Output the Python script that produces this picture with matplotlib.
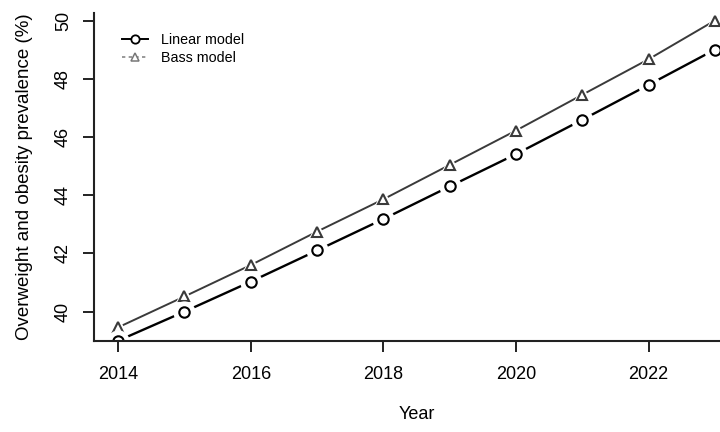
import matplotlib
matplotlib.use('Agg')
import matplotlib.pyplot as plt
from matplotlib.lines import Line2D

plt.rcParams['font.family'] = ['Liberation Sans', 'DejaVu Sans']

years = [2014, 2015, 2016, 2017, 2018, 2019, 2020, 2021, 2022, 2023]
linear_model = [39.0, 40.0, 41.03, 42.1, 43.18, 44.3, 45.41, 46.59, 47.79, 49.0]
bass_model = [39.46, 40.52, 41.6, 42.75, 43.86, 45.04, 46.22, 47.45, 48.67, 50.0]
x_ticks = [2014, 2016, 2018, 2020, 2022]
y_ticks = [40, 42, 44, 46, 48, 50]

fig = plt.figure(figsize=(7.2, 4.32), dpi=100)
ax = fig.add_axes([0.131, 0.2113, 0.895, 0.758])

# R type="b": lines broken around the points
series = [(bass_model, '#3a3a3a', 1.4, '^', 1), (linear_model, 'black', 1.7, 'o', 2)]
for vals, col, lw, mk, z in series:
    ax.plot(years, vals, color=col, lw=lw, zorder=z)
    ax.plot(years, vals, ls='none', marker=mk, ms=16, mfc='white', mec='none', zorder=z + 0.1)
    ax.plot(years, vals, ls='none', marker=mk, ms=7.5, mfc='white', mec=col, mew=1.5, zorder=z + 0.2)

ax.set_xlim(2013.64, 2023.36)
ax.set_ylim(39.0, 50.25)
ax.set_xticks(x_ticks)
ax.set_yticks(y_ticks)
ax.set_yticklabels([str(v) for v in y_ticks], rotation=90, va='center')
ax.tick_params(axis='both', length=8, width=1.4, labelsize=13, color='#222222')
ax.tick_params(axis='x', pad=10)
ax.tick_params(axis='y', pad=8)
for s in ['top', 'right']:
    ax.spines[s].set_visible(False)
for s in ['left', 'bottom']:
    ax.spines[s].set_linewidth(1.5)
    ax.spines[s].set_color('#222222')

ax.set_xlabel('Year', fontsize=13, labelpad=17)
ax.set_ylabel('Overweight and obesity prevalence (%)', fontsize=13.5, labelpad=16)

handles = [
    Line2D([], [], color='black', lw=1.4, marker='o', ms=6, mfc='white', mec='black', mew=1.3),
    Line2D([], [], color='#888888', lw=1.2, ls=(0, (2, 2)), marker='^', ms=6, mfc='white', mec='#777777', mew=1.1),
]
fig.legend(handles, ['Linear model', 'Bass model'], loc='upper left',
           bbox_to_anchor=(122 / 720, 1 - 33 / 432), frameon=False, fontsize=10.3,
           handlelength=1.8, handletextpad=0.9, labelspacing=0.3, borderpad=0, borderaxespad=0)

fig.savefig('out.png', dpi=100)
